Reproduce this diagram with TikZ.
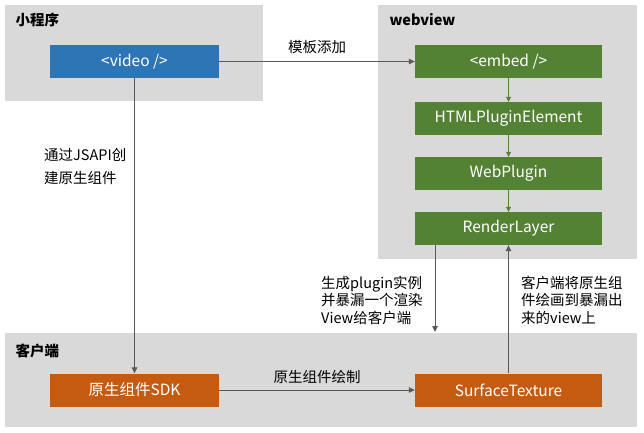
\documentclass[tikz,border=0pt]{standalone}
\usepackage{fontspec}
\setmainfont{Noto Sans CJK SC}
\usetikzlibrary{arrows.meta,positioning}
\definecolor{panelgray}{HTML}{D9D9D9}
\definecolor{miniblue}{HTML}{2E75B6}
\definecolor{webgreen}{HTML}{548235}
\definecolor{clientorange}{HTML}{C55A11}
\definecolor{linegray}{HTML}{595959}

\begin{document}
\begin{tikzpicture}[x=1pt,y=-1pt,font=\fontsize{14.5}{17.5}\selectfont,
    >={Triangle[length=6pt,width=5.5pt]},
    box/.style={minimum width=169pt,minimum height=33pt,inner sep=0pt,text=white,
      font=\fontsize{15.5}{18}\selectfont},
    wbox/.style={box,fill=webgreen,minimum width=187pt},
    title/.style={anchor=west,font=\fontsize{14.5}{17}\selectfont\bfseries},
    flow/.style={->,draw=linegray,line width=0.8pt},
    gflow/.style={->,draw=webgreen,line width=0.8pt,>={Triangle[length=5pt,width=5pt]}},
    note/.style={align=left,anchor=west,inner sep=0pt}]
  \useasboundingbox (0,0) rectangle (644,432);
  % panels
  \fill[panelgray] (5,5) rectangle (263,101);
  \fill[panelgray] (378,5) rectangle (637,259);
  \fill[panelgray] (5,333) rectangle (637,427);
  \node[title] (tmini) at (12,20) {小程序};
  \node[title] (tweb) at (386,20) {webview};
  \node[title] (tclient) at (12,351) {客户端};
  % boxes
  \node[box,fill=miniblue] (video) at (134.5,61.5) {<video />};
  \node[wbox] (embed) at (508.5,61.5) {<embed />};
  \node[wbox] (htmlpe) at (508.5,118.5) {HTMLPluginElement};
  \node[wbox] (webplug) at (508.5,173.5) {WebPlugin};
  \node[wbox] (render) at (508.5,228.5) {RenderLayer};
  \node[box,fill=clientorange] (sdk) at (134.5,390) {原生组件SDK};
  \node[wbox,fill=clientorange] (surface) at (508.5,390) {SurfaceTexture};
  \coordinate (viewend) at (render.south -| 435,0);
  \coordinate (viewtip) at (435,332);
  % connectors
  \draw[flow] (video) -- node[above=4pt] (lbtpl) {模板添加} (embed);
  \draw[gflow] (embed) -- (htmlpe);
  \draw[gflow] (htmlpe) -- (webplug);
  \draw[gflow] (webplug) -- (render);
  \draw[flow] (video) -- (sdk);
  \draw[flow] (sdk) -- node[above=3pt] (lbdraw) {原生组件绘制} (surface);
  \draw[flow] (viewend) -- (viewtip);
  \draw[flow] (surface) -- (render);
  \node[note,font=\fontsize{14.5}{23}\selectfont] (lbjsapi) at (44,166.5) {通过JSAPI创\\建原生组件};
  \node[note] (lbplugin) at (321,300) {生成plugin实例\\并暴漏一个渲染\\View给客户端};
  \node[note] (lbpaint) at (521,300) {客户端将原生组\\件绘画到暴漏出\\来的view上};
\end{tikzpicture}
\end{document}
